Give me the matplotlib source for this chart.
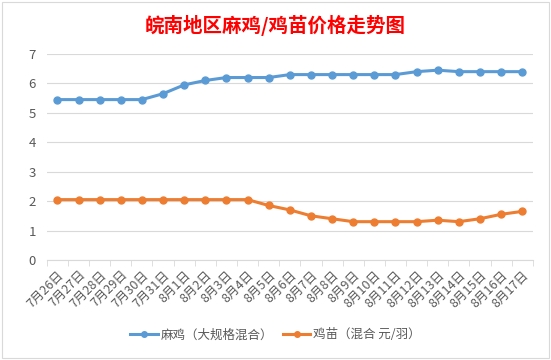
import numpy as np
import matplotlib
matplotlib.use("Agg")
import matplotlib.pyplot as plt
from matplotlib.patches import Rectangle

plt.rcParams['font.family'] = ['Noto Sans CJK SC', 'DejaVu Sans']

# dates on the x axis
dates = ['7月26日', '7月27日', '7月28日', '7月29日', '7月30日', '7月31日'] + \
        ['8月%d日' % d for d in range(1, 18)]

# 麻鸡 (大规格混合)
maji = [5.45, 5.45, 5.45, 5.45, 5.45, 5.65, 5.95, 6.1, 6.2, 6.2, 6.2, 6.3,
        6.3, 6.3, 6.3, 6.3, 6.3, 6.4, 6.45, 6.4, 6.4, 6.4, 6.4]
# 鸡苗 (混合 元/羽)
jimiao = [2.05, 2.05, 2.05, 2.05, 2.05, 2.05, 2.05, 2.05, 2.05, 2.05, 1.85, 1.7,
          1.5, 1.4, 1.3, 1.3, 1.3, 1.3, 1.35, 1.3, 1.4, 1.55, 1.65]

series_names = ['麻鸡（大规格混合）', '鸡苗（混合 元/羽）']
blue = '#5B9BD5'
orange = '#ED7D31'
grey = '#595959'

fig = plt.figure(figsize=(5.51, 3.6), dpi=100)
fig.patch.set_facecolor('white')
fig.patches.append(Rectangle((0.004, 0.006), 0.992, 0.988, transform=fig.transFigure,
                             fill=False, edgecolor='#D9D9D9', lw=0.8))

ax = fig.add_axes([0.085, 0.278, 0.882, 0.572])
x = np.arange(len(dates))
ax.plot(x, maji, color=blue, lw=2.2, marker='o', ms=5, label=series_names[0])
ax.plot(x, jimiao, color=orange, lw=2.2, marker='o', ms=5, label=series_names[1])

ax.set_xlim(-0.5, len(dates) - 0.5)
ax.set_ylim(0, 7)
ax.set_yticks(range(0, 8))
ax.grid(axis='y', color='#D9D9D9', lw=0.8)
ax.set_axisbelow(True)
for s in ['top', 'right', 'left']:
    ax.spines[s].set_visible(False)
ax.spines['bottom'].set_color('#D9D9D9')

ax.set_xticks(x)
ax.set_xticklabels(dates, rotation=45, ha='right', va='top', rotation_mode='anchor',
                   fontsize=9, color=grey)
ax.set_xticks(np.arange(-0.5, len(dates)), minor=True)
ax.tick_params(axis='x', which='major', length=0, pad=6)
ax.tick_params(axis='x', which='minor', length=4, color='#D9D9D9')
ax.tick_params(axis='y', length=0, labelsize=9.5, labelcolor=grey, pad=8)

fig.text(0.5, 0.93, '皖南地区麻鸡/鸡苗价格走势图', ha='center', va='center',
         fontsize=14, color='red', fontweight='bold')

fig.legend(loc='center', bbox_to_anchor=(0.5, 0.07), ncol=2, frameon=False,
           fontsize=9, labelcolor=grey, handlelength=2.2, columnspacing=0.8,
           handletextpad=0.2, markerscale=0.8)

fig.savefig('out.png', dpi=100)
